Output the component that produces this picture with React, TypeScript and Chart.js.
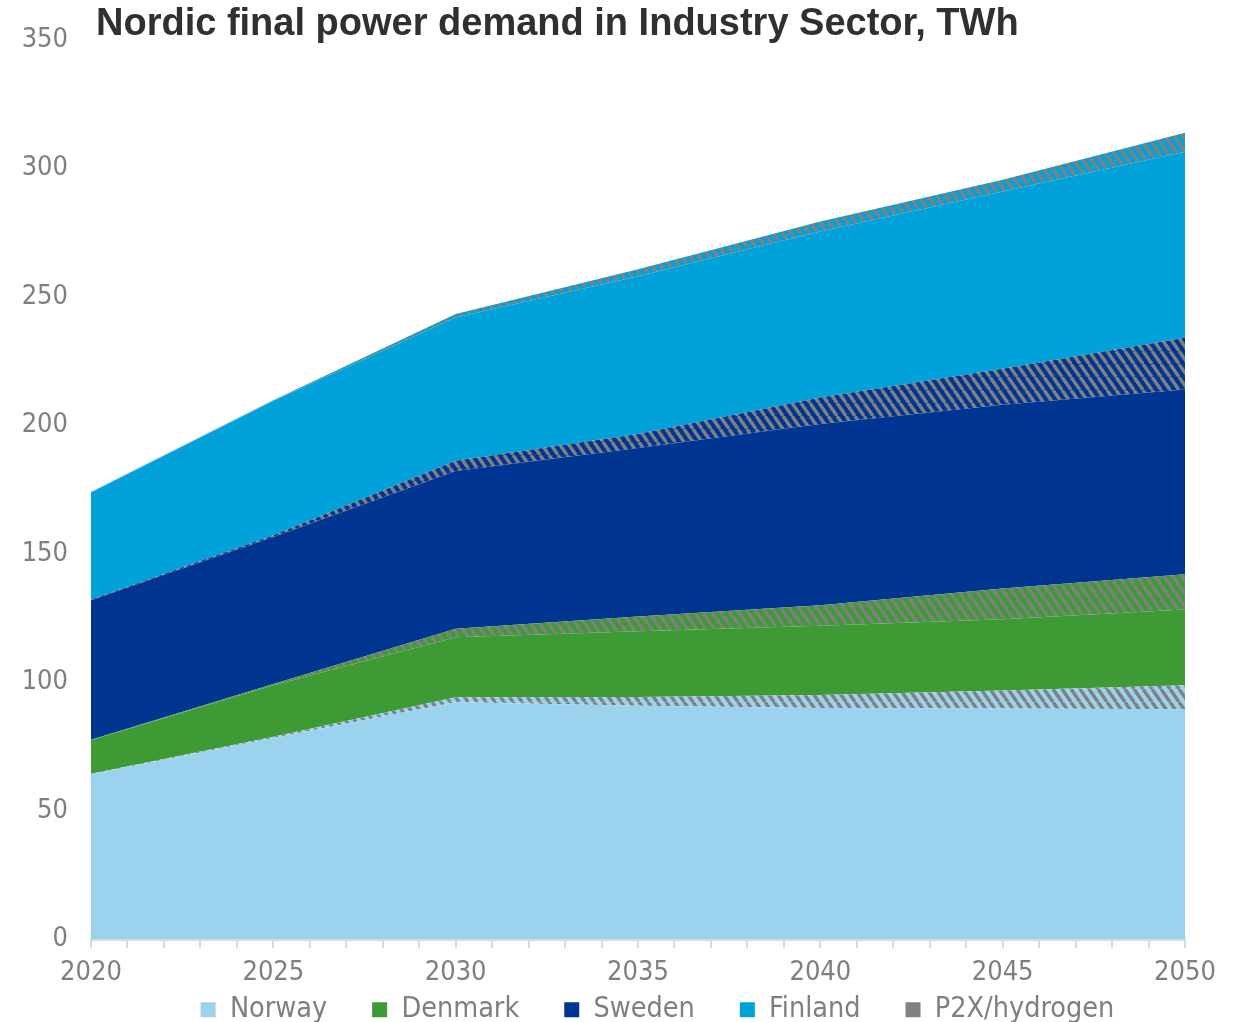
import React, { useEffect, useRef } from 'react';
import { Chart, registerables } from 'chart.js';

Chart.register(...registerables);

// ---- Data (TWh) ----
const years = [2020, 2025, 2030, 2035, 2040, 2045, 2050];
const norway = [64.2, 78.3, 92.2, 90.8, 90.0, 89.8, 89.5];
const norwayP2X = [0.2, 0.5, 1.9, 3.4, 5.0, 7.0, 9.3];
const denmark = [13.0, 20.0, 23.4, 25.6, 27.0, 27.7, 29.5];
const denmarkP2X = [0.2, 0.5, 3.3, 5.8, 8.0, 12.0, 13.7];
const sweden = [54.3, 57.2, 61.4, 65.6, 70.5, 71.5, 71.9];
const swedenP2X = [0.3, 0.7, 4.0, 5.4, 10.3, 14.0, 20.2];
const finland = [41.7, 52.3, 55.8, 61.4, 64.7, 69.0, 72.4];
const finlandP2X = [0.1, 0.3, 1.3, 2.8, 3.8, 4.6, 7.4];

const legendLabels = ['Norway', 'Denmark', 'Sweden', 'Finland', 'P2X/hydrogen'];
const titleText = 'Nordic final power demand in Industry Sector, TWh';
const xMin = 2020;
const xMax = 2050;
const yMax = 350;
const yStep = 50;

// ---- Styles ----
const C_NORWAY = '#9BD3EE';
const C_DENMARK = '#3E9A35';
const C_SWEDEN = '#003591';
const C_FINLAND = '#00A2D9';
const C_P2X = '#808080';
const TEXT_GRAY = '#7F7F7F';
const AXIS_GRAY = '#D9D9D9';
const FONT = '"DejaVu Sans Condensed", "DejaVu Sans", sans-serif';

// layout nudges (px)
const LEGEND_DX = 65;
const LEGEND_DY = -48;
const TITLE_DX = 5;

function hatch(bg: string, fg: string): CanvasPattern | string {
  const w = 9;
  const h = 13;
  const c = document.createElement('canvas');
  c.width = w;
  c.height = h;
  const g = c.getContext('2d');
  if (!g) return bg;
  g.fillStyle = bg;
  g.fillRect(0, 0, w, h);
  g.strokeStyle = fg;
  g.lineWidth = 3.4;
  for (const o of [-w, 0, w]) {
    g.beginPath();
    g.moveTo(o, 0);
    g.lineTo(o + w, h);
    g.stroke();
  }
  return g.createPattern(c, 'repeat') || bg;
}

const nudge = {
  id: 'nudge',
  afterLayout(chart: any) {
    const lg = chart.legend;
    if (lg) {
      lg.top += LEGEND_DY;
      lg.bottom += LEGEND_DY;
      lg.left += LEGEND_DX;
      lg.right += LEGEND_DX;
    }
    const tb = chart.titleBlock;
    if (tb) {
      tb.left += TITLE_DX;
      tb.right += TITLE_DX;
    }
  },
};

export default function App() {
  const ref = useRef<HTMLCanvasElement | null>(null);

  useEffect(() => {
    document.body.style.margin = '0';
    document.body.style.overflow = 'hidden';
    const canvas = ref.current;
    if (!canvas) return;

    const series = [
      { name: 'Norway', values: norway, bg: C_NORWAY },
      { name: 'Norway P2X', values: norwayP2X, bg: hatch(C_NORWAY, C_P2X) },
      { name: 'Denmark', values: denmark, bg: C_DENMARK },
      { name: 'Denmark P2X', values: denmarkP2X, bg: hatch(C_DENMARK, C_P2X) },
      { name: 'Sweden', values: sweden, bg: C_SWEDEN },
      { name: 'Sweden P2X', values: swedenP2X, bg: hatch(C_SWEDEN, C_P2X) },
      { name: 'Finland', values: finland, bg: C_FINLAND },
      { name: 'Finland P2X', values: finlandP2X, bg: hatch(C_FINLAND, C_P2X) },
    ];
    const legendColors = [C_NORWAY, C_DENMARK, C_SWEDEN, C_FINLAND, C_P2X];

    const chart = new Chart(canvas, {
      type: 'line',
      data: {
        datasets: series.map((s, i) => ({
          label: s.name,
          data: s.values.map((v, k) => ({ x: years[k], y: v })),
          backgroundColor: s.bg as any,
          borderColor: 'rgba(0,0,0,0)',
          borderWidth: 0,
          pointRadius: 0,
          pointHoverRadius: 0,
          tension: 0,
          fill: i === 0 ? 'origin' : '-1',
        })),
      },
      plugins: [nudge],
      options: {
        animation: false,
        responsive: true,
        maintainAspectRatio: false,
        events: [],
        layout: { padding: { left: 0, right: 58, top: 0, bottom: -60 } },
        plugins: {
          tooltip: { enabled: false },
          title: {
            display: true,
            text: titleText,
            align: 'start',
            fullSize: false,
            color: '#303030',
            font: { family: '"Liberation Sans", Arial, sans-serif', size: 38, weight: 'bold', lineHeight: 1 },
            padding: { top: 6, bottom: -4 },
          },
          legend: {
            display: true,
            position: 'bottom',
            onClick: () => {},
            labels: {
              color: TEXT_GRAY,
              font: { family: FONT, size: 28.5 },
              boxWidth: 15,
              boxHeight: 15,
              padding: 45,
              generateLabels: () =>
                legendLabels.map((t, i) => ({
                  text: t,
                  fillStyle: legendColors[i],
                  strokeStyle: legendColors[i],
                  lineWidth: 0,
                  hidden: false,
                  datasetIndex: i,
                  fontColor: TEXT_GRAY,
                })),
            },
          },
        },
        scales: {
          x: {
            type: 'linear',
            min: xMin,
            max: xMax,
            grid: {
              display: true,
              drawOnChartArea: false,
              drawTicks: true,
              tickLength: 9,
              color: AXIS_GRAY,
              lineWidth: 2,
            },
            border: { display: true, color: AXIS_GRAY, width: 3 },
            ticks: {
              stepSize: 1,
              autoSkip: false,
              maxRotation: 0,
              minRotation: 0,
              padding: 9,
              color: TEXT_GRAY,
              font: { family: FONT, size: 27 },
              callback: (v: any) => (Number(v) % 5 === 0 ? String(v) : ''),
            },
          },
          y: {
            stacked: true,
            min: 0,
            max: yMax,
            afterFit: (s: any) => {
              s.width = 91;
            },
            grid: { display: false, drawTicks: false },
            border: { display: false },
            ticks: {
              stepSize: yStep,
              padding: 23,
              color: TEXT_GRAY,
              font: { family: FONT, size: 27 },
            },
          },
        },
      },
    });

    return () => chart.destroy();
  }, []);

  return (
    <div style={{ position: 'relative', width: '1243px', height: '1022px' }}>
      <canvas ref={ref} />
    </div>
  );
}
